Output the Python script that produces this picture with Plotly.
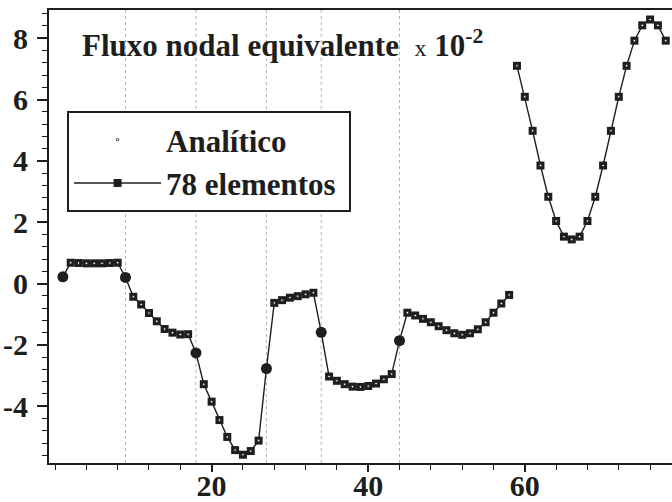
import plotly.graph_objects as go

# Node indices along the boundary (two open stretches)
nodes_a = list(range(1, 59))
nodes_b = list(range(59, 79))

# Equivalent nodal flux (x 10^-2), 78-element solution
flux_a = [0.22, 0.68, 0.67, 0.66, 0.66, 0.66, 0.67, 0.68, 0.20, -0.43,
          -0.68, -0.96, -1.23, -1.48, -1.60, -1.66, -1.65, -2.26, -3.28, -3.85,
          -4.45, -5.00, -5.43, -5.58, -5.46, -5.12, -2.77, -0.63, -0.54, -0.46,
          -0.41, -0.35, -0.30, -1.59, -3.03, -3.17, -3.28, -3.36, -3.37, -3.34,
          -3.26, -3.12, -2.95, -1.86, -0.95, -1.04, -1.15, -1.26, -1.39, -1.52,
          -1.62, -1.67, -1.62, -1.49, -1.26, -0.95, -0.65, -0.37]
flux_b = [7.10, 6.09, 4.98, 3.85, 2.83, 2.04, 1.53, 1.44, 1.53, 2.04,
          2.83, 3.85, 4.98, 6.09, 7.10, 7.92, 8.42, 8.61, 8.42, 7.92]

# Corner nodes where the boundary changes direction
corner_nodes = [1, 9, 18, 27, 34, 44]

# Tick labels
x_ticks = [20, 40, 60]
y_ticks = [-4, -2, 0, 2, 4, 6, 8]
y_ticktext = ["-4", "-2", "0", "2", "4", "6", "8"]

INK = "#1e1e1e"
SERIF = "Liberation Serif"
NBSP = "\u00a0"

flux_by_node = dict(zip(nodes_a + nodes_b, flux_a + flux_b))

fig = go.Figure()

# Element solution: line with square markers, broken between the two stretches
fig.add_trace(go.Scatter(
    x=nodes_a + [None] + nodes_b,
    y=flux_a + [None] + flux_b,
    mode="lines+markers",
    name="78 elementos" + NBSP,
    legendgroup="fem",
    line=dict(color=INK, width=1.4),
    marker=dict(symbol="square", size=8, color=INK),
    connectgaps=False,
))

# Corner nodes drawn as larger filled dots
fig.add_trace(go.Scatter(
    x=corner_nodes,
    y=[flux_by_node[n] for n in corner_nodes],
    mode="markers",
    showlegend=False,
    legendgroup="fem",
    marker=dict(symbol="circle", size=11, color=INK),
    hoverinfo="skip",
))

# Analytical values at the regular nodes: small open circles
ana_nodes = [n for n in nodes_a + nodes_b if n not in corner_nodes]
fig.add_trace(go.Scatter(
    x=ana_nodes,
    y=[flux_by_node[n] for n in ana_nodes],
    mode="markers",
    name="Analítico",
    legendgroup="ana",
    marker=dict(symbol="circle", size=2.5, color="white",
                line=dict(color=INK, width=0.9)),
))

# Dotted guide lines at the corners
for n in corner_nodes[1:]:
    fig.add_shape(type="line", xref="x", yref="paper", x0=n, x1=n, y0=0, y1=1,
                  line=dict(color="#b4b4b4", width=1, dash="dot"), layer="below")

fig.add_annotation(
    xref="paper", yref="paper", x=0.05, y=0.927, xanchor="left", yanchor="middle",
    showarrow=False,
    text="Fluxo nodal equivalente  <span style='font-weight:normal;font-size:24px'>x</span> 10<sup>-2</sup>",
    font=dict(family=SERIF, size=31, color=INK, weight="bold"),
)

fig.update_layout(
    width=672, height=502,
    margin=dict(l=49, r=0, t=10, b=39),
    paper_bgcolor="white", plot_bgcolor="white",
    showlegend=True,
    legend=dict(
        x=0.029, y=0.777, xanchor="left", yanchor="top",
        traceorder="reversed",
        bgcolor="white", bordercolor=INK, borderwidth=2,
        font=dict(family=SERIF, size=31, color=INK, weight="bold"),
        itemwidth=87, tracegroupgap=18,
    ),
    xaxis=dict(
        range=[-0.77, 78.8], automargin=False,
        tickvals=x_ticks, ticktext=[str(v) for v in x_ticks],
        ticks="outside", ticklen=7, tickwidth=1.5, tickcolor=INK,
        ticklabelstandoff=-12,
        minor=dict(dtick=4, tick0=0, ticks="outside", ticklen=5, tickwidth=1.2, tickcolor=INK),
        showgrid=False, zeroline=False,
        showline=True, linecolor=INK, linewidth=2, mirror=True,
        tickfont=dict(family=SERIF, size=30, color=INK, weight="bold"),
    ),
    yaxis=dict(
        range=[-5.85, 8.92], automargin=False,
        tickvals=y_ticks, ticktext=y_ticktext,
        ticks="outside", ticklen=10, tickwidth=1.5, tickcolor=INK,
        ticklabelstandoff=3,
        minor=dict(dtick=0.4, tick0=0, ticks="outside", ticklen=5, tickwidth=1.2, tickcolor=INK),
        showgrid=False, zeroline=False,
        showline=True, linecolor=INK, linewidth=2, mirror=False,
        tickfont=dict(family=SERIF, size=30, color=INK, weight="bold"),
    ),
)

fig.write_html("out.html")
